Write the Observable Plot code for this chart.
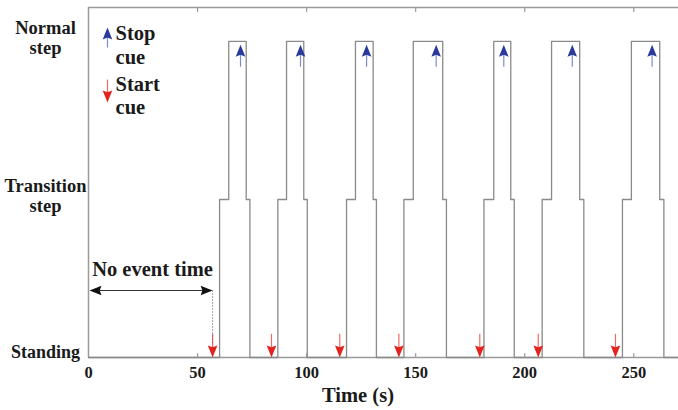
<!DOCTYPE html>
<html><head><meta charset="utf-8">
<script src="https://cdn.jsdelivr.net/npm/d3@7"></script>
<script src="https://cdn.jsdelivr.net/npm/@observablehq/plot@0.6"></script>
<style>body{margin:0;background:#fff}</style>
</head><body><div id="chart"></div>
<script>
// ---- data ----
const xTicks = [0, 50, 100, 150, 200, 250];
const levelValues = [0, 1, 2];
const levelNames = ["Standing", "Transition\nstep", "Normal\nstep"];
const toTransition     = [60.1, 86.8, 118.3, 144.6, 181.3, 208.0, 244.8];
const toNormal         = [64.3, 90.8, 122.4, 148.9, 185.8, 212.3, 248.9];
const backToTransition = [72.3, 98.7, 130.5, 162.4, 193.6, 225.2, 261.9];
const backToStanding   = [74.0, 100.3, 132.0, 164.1, 195.2, 227.1, 263.8];
const startCues = [56.9, 83.9, 115.2, 142.3, 179.4, 206.2, 241.6];
const stopCues  = [69.7, 97.2, 127.5, 159.4, 190.4, 221.8, 258.4];
const stopCueTail = 1.84, stopCueTip = 1.98;
const startCueTail = 0.15, startCueTip = 0.0;
const noEventSpan = [0, 56.9];
const noEventLevel = 0.424;
const noEventLabel = ["No event time"];
const legendLabels = ["Stop\ncue", "Start\ncue"];
const legendX = 8.7, legendTextX = 12.4;
const legendStop = [2.089, 1.962];   // tip, tail
const legendStart = [1.614, 1.759];  // tip, tail
const legendTextY = [2.117, 1.797];
const xLabel = ["Time (s)"];
const xMax = 270.5, yMax = 2.215;

// ---- build step table ----
const steps = [{t: 0, level: 0}];
toTransition.forEach((t, i) => {
  steps.push({t, level: 1}, {t: toNormal[i], level: 2},
             {t: backToTransition[i], level: 1}, {t: backToStanding[i], level: 0});
});
steps.push({t: xMax, level: 0});

// arrowhead symbols: tip at origin
function head(dir) {
  return {draw(ctx, size) {
    const r = Math.sqrt(size / Math.PI), L = 2 * r, w = 0.8 * r, n = 0.85 * L;
    const pts = [[0, 0], [w, L], [0, n], [-w, L]].map(([a, b]) =>
      dir === "up" ? [a, b] : dir === "down" ? [a, -b] : dir === "left" ? [b, a] : [-b, a]);
    ctx.moveTo(...pts[0]); for (let i = 1; i < 4; i++) ctx.lineTo(...pts[i]); ctx.closePath();
  }};
}
const tickUp = {draw(ctx, l) { ctx.moveTo(0, 0); ctx.lineTo(0, -l); }};
const tickDown = {draw(ctx, l) { ctx.moveTo(0, 0); ctx.lineTo(0, l); }};

const font = "'Liberation Serif', 'Times New Roman', serif";
const ink = "#1a1a1a";
const frameColor = "#9a9a9a";
const blueHead = "#2a3a9c", blueShaft = "#7f8bd2";
const redHead = "#e4221e", redShaft = "#f06a66";

const chart = Plot.plot({
  width: 678, height: 410,
  marginLeft: 88, marginRight: 0, marginTop: 7, marginBottom: 53,
  x: {domain: [0, xMax], label: null},
  y: {domain: [0, yMax], axis: null},
  style: {fontFamily: font, fontWeight: "bold", background: "#fff", overflow: "visible"},
  marks: [
    Plot.ruleY([0, yMax], {stroke: frameColor, strokeWidth: 1.5}),
    Plot.ruleX([0], {stroke: frameColor, strokeWidth: 1.5}),
    Plot.vector(xTicks.filter(d => d > 0), {x: d => d, frameAnchor: "bottom", length: 4, anchor: "start", shape: tickUp, stroke: frameColor, strokeWidth: 1.2, fill: "none"}),
    Plot.vector(xTicks.filter(d => d > 0), {x: d => d, frameAnchor: "top", length: 4, anchor: "start", shape: tickDown, stroke: frameColor, strokeWidth: 1.2, fill: "none"}),
    Plot.axisX(xTicks, {anchor: "bottom", tickSize: 0, tickPadding: 9, fontSize: 16.5, fill: ink, label: null}),
    Plot.text(xLabel, {frameAnchor: "bottom", dx: -25.5, dy: 44.7, lineAnchor: "bottom", fontSize: 20.5, fill: ink}),
    // level labels
    Plot.text(levelValues.filter(v => v > 0), {y: d => d, text: d => levelNames[d], frameAnchor: "left", dx: -43, dy: 13, textAnchor: "middle", lineAnchor: "bottom", lineHeight: 1.1, fontSize: 18.5, fill: ink}),
    Plot.text(levelValues.filter(v => v === 0), {y: d => d, text: d => levelNames[d], frameAnchor: "left", dx: -43, dy: 0, textAnchor: "middle", lineAnchor: "bottom", fontSize: 18, fill: ink}),
    // waveform
    Plot.line(steps, {x: "t", y: "level", curve: "step-after", stroke: "#8a8a8a", strokeWidth: 1.3}),
    // stop cues
    Plot.link(stopCues, {x1: d => d, x2: d => d, y1: () => stopCueTail, y2: () => stopCueTip - 0.05, stroke: blueShaft, strokeWidth: 1.2}),
    Plot.dot(stopCues, {x: d => d, y: () => stopCueTip, symbol: head("up"), r: 6, fill: blueHead, stroke: "none"}),
    // start cues
    Plot.link(startCues, {x1: d => d, x2: d => d, y1: () => startCueTail, y2: () => startCueTip + 0.05, stroke: redShaft, strokeWidth: 1.2}),
    Plot.dot(startCues, {x: d => d, y: () => startCueTip, symbol: head("down"), r: 6, fill: redHead, stroke: "none"}),
    // no event time annotation
    Plot.link([noEventSpan], {x1: d => d[0] + 1, x2: d => d[1] - 1, y1: () => noEventLevel, y2: () => noEventLevel, stroke: "#333", strokeWidth: 1}),
    Plot.dot([noEventSpan[0]], {x: d => d, y: () => noEventLevel, symbol: head("left"), r: 6, fill: "#111", stroke: "none", dx: 1}),
    Plot.dot([noEventSpan[1]], {x: d => d, y: () => noEventLevel, symbol: head("right"), r: 6, fill: "#111", stroke: "none"}),
    Plot.link([noEventSpan[1]], {x1: d => d, x2: d => d, y1: () => noEventLevel, y2: () => startCueTail - 0.06, stroke: "#555", strokeWidth: 1, strokeDasharray: "1,2"}),
    Plot.text(noEventLabel, {x: () => (noEventSpan[0] + noEventSpan[1]) / 2 + 0.9, y: () => noEventLevel + 0.09, lineAnchor: "bottom", fontSize: 20.5, fill: ink}),
    // legend
    Plot.link([legendStop], {x1: () => legendX, x2: () => legendX, y1: d => d[1], y2: d => d[0] - 0.05, stroke: blueShaft, strokeWidth: 1.2}),
    Plot.dot([legendStop], {x: () => legendX, y: d => d[0], symbol: head("up"), r: 6, fill: blueHead, stroke: "none"}),
    Plot.link([legendStart], {x1: () => legendX, x2: () => legendX, y1: d => d[1], y2: d => d[0] + 0.05, stroke: redShaft, strokeWidth: 1.2}),
    Plot.dot([legendStart], {x: () => legendX, y: d => d[0], symbol: head("down"), r: 6, fill: redHead, stroke: "none"}),
    Plot.text(legendLabels, {x: () => legendTextX, y: (d, i) => legendTextY[i], textAnchor: "start", lineAnchor: "top", lineHeight: 1.165, fontSize: 20.5, fill: ink})
  ]
});
document.getElementById("chart").appendChild(chart);
</script>
</body></html>
